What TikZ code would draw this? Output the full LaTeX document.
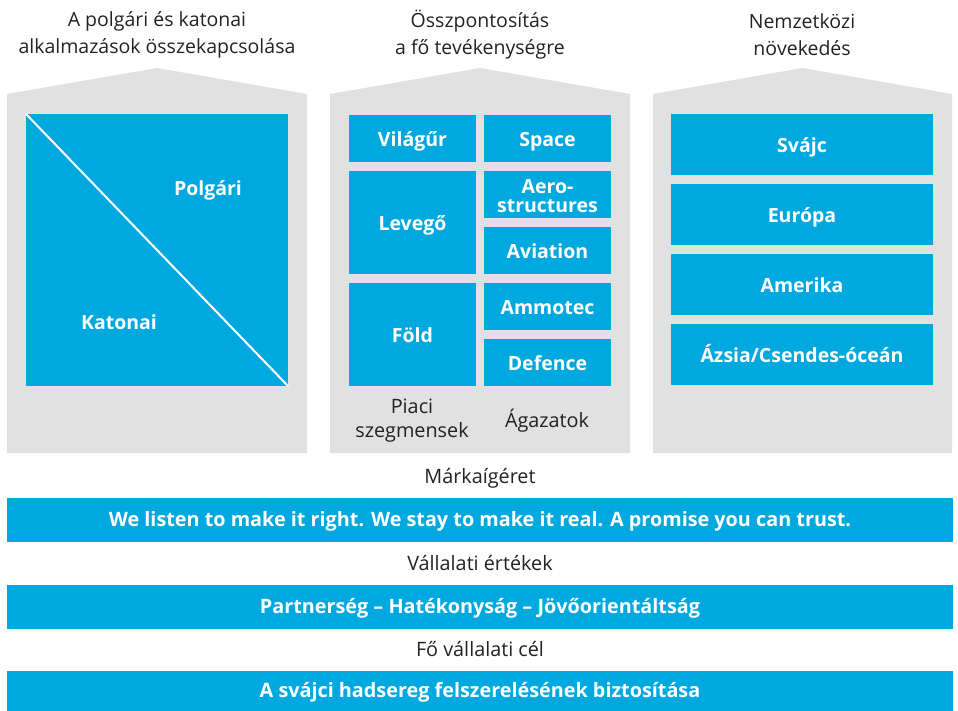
\documentclass[tikz,border=0pt]{standalone}
\usepackage{fontspec}
\setmainfont{Open Sans}
\definecolor{rblue}{HTML}{00A8E0}
\definecolor{rgray}{HTML}{E1E1E1}
\definecolor{rtext}{HTML}{222222}
\begin{document}
\begin{tikzpicture}[x=1pt,y=-1pt,
  blk/.style={fill=rblue, text=white, font=\fontsize{19.5}{20}\selectfont\bfseries, inner sep=0pt, align=center, text height=17.5pt, text depth=2pt},
  bar/.style={blk, minimum width=946pt, font=\fontsize{19.8}{20}\selectfont\bfseries, text height=15.5pt, text depth=2pt},
  hdr/.style={text=rtext, font=\fontsize{19.5}{27}\selectfont, align=center, inner sep=0pt},
  lbl/.style={text=rtext, font=\fontsize{19.8}{24}\selectfont, align=center, inner sep=0pt, text height=15.5pt, text depth=2pt},
  lblm/.style={text=rtext, font=\fontsize{19.8}{24}\selectfont, align=center, inner sep=0pt},
  house/.style={fill=rgray}]
\useasboundingbox (0,0) rectangle (958,711);
% houses
\fill[house] (7,453) -- (7,94) -- (157,68) -- (307,94) -- (307,453) -- cycle;
\fill[house] (330,453) -- (330,94) -- (480,68) -- (630,94) -- (630,453) -- cycle;
\fill[house] (653,453) -- (653,94) -- (802.5,68) -- (952,94) -- (952,453) -- cycle;
% headers
\node[hdr] (h1) at (157,34.5) {A polgári és katonai\\alkalmazások összekapcsolása};
\node[hdr] (h2) at (480,34.5) {Összpontosítás\\a fő tevékenységre};
\node[hdr] (h3) at (802,34.5) {Nemzetközi\\növekedés};
% left square
\node[blk, minimum width=262pt, minimum height=272pt] (sq) at (157,250) {};
\draw[white, line width=2pt] (sq.north west) -- (sq.south east);
\node[blk, fill=none] (polg) at (208,188) {Polgári};
\node[blk, fill=none] (kat) at (119,322) {Katonai};
% middle
\tikzset{cw/.style={minimum width=127pt}}
\node[blk, cw, minimum height=47pt] (vil) at (412.5,138.5) {Világűr};
\node[blk, cw, minimum height=47pt] (spa) at (547.5,138.5) {Space};
\node[blk, cw, minimum height=103pt] (lev) at (412.5,222.5) {Levegő};
\node[fill=rblue, minimum width=127pt, minimum height=47pt, inner sep=0pt] (aer) at (547.5,194.5) {};
\node[text=white, font=\fontsize{19.5}{19}\selectfont\bfseries, align=center, inner sep=0pt] (aert) at (547.5,196) {Aero-\\structures};
\node[blk, cw, minimum height=47pt] (avi) at (547.5,250.5) {Aviation};
\node[blk, cw, minimum height=103pt] (fold) at (412.5,334.5) {Föld};
\node[blk, cw, minimum height=47pt] (amm) at (547.5,306.5) {Ammotec};
\node[blk, cw, minimum height=47pt] (def) at (547.5,362.5) {Defence};
\node[lblm] (piaci) at (412,420.5) {Piaci\\szegmensek};
\node[lbl] (agaz) at (547,421) {Ágazatok};
% right
\tikzset{rw/.style={minimum width=262pt, minimum height=61pt}}
\node[blk, rw] (svc) at (802,144.5) {Svájc};
\node[blk, rw] (eur) at (802,214.5) {Európa};
\node[blk, rw] (ame) at (802,284.5) {Amerika};
\node[blk, rw] (azs) at (802,354.5) {Ázsia/Csendes-óceán};
% bottom
\node[lbl] (mark) at (480,477) {Márkaígéret};
\node[bar, minimum height=44pt] (b1) at (480,520) {We listen to make it right. We stay to make it real. A promise you can trust.};
\node[lbl] (vall) at (480,564) {Vállalati értékek};
\node[bar, minimum height=44pt] (b2) at (480,607) {Partnerség -- Hatékonyság -- Jövőorientáltság};
\node[lbl] (fo) at (480,650) {Fő vállalati cél};
\node[bar, minimum height=40pt] (b3) at (480,691) {A svájci hadsereg felszerelésének biztosítása};
\end{tikzpicture}
\end{document}
